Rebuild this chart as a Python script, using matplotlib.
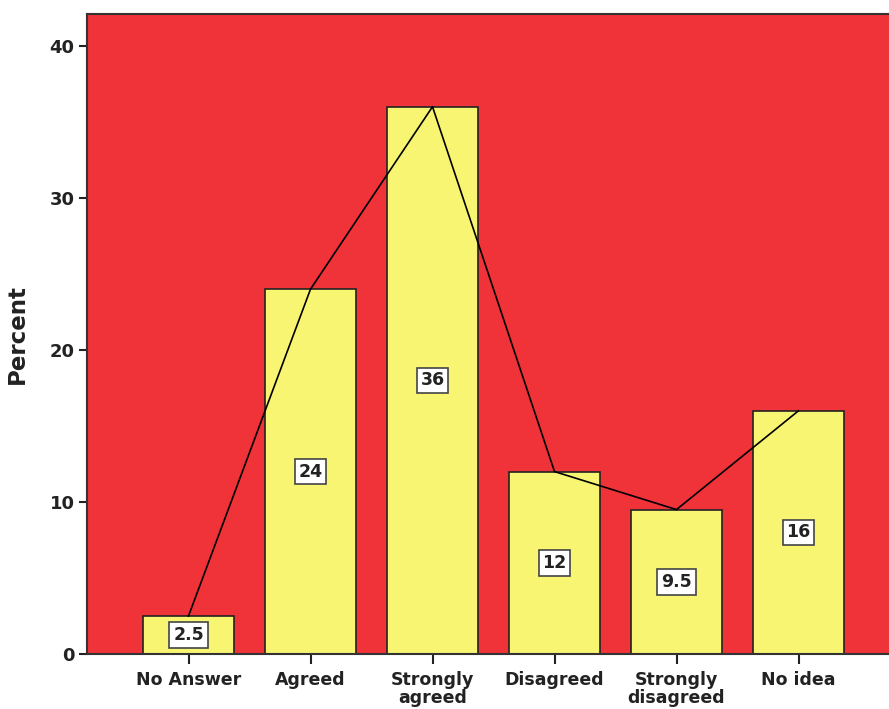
import matplotlib
matplotlib.use("Agg")
import matplotlib.pyplot as plt
import numpy as np

categories = ["No Answer", "Agreed", "Strongly\nagreed", "Disagreed",
              "Strongly\ndisagreed", "No idea"]
percent = [2.5, 24, 36, 12, 9.5, 16]
value_labels = ["2.5", "24", "36", "12", "9.5", "16"]

RED = "#F03239"
YELLOW = "#F8F572"

fig = plt.figure(figsize=(8.89, 7.09), dpi=100)
W, H = 889, 709
left, top, bottom = 87, 14, 654
right = 900  # plot area runs off the right edge
ax = fig.add_axes([left / W, 1 - bottom / H, (right - left) / W, (bottom - top) / H])
ax.set_facecolor(RED)

x = np.arange(len(categories))
ax.bar(x, percent, width=0.745, color=YELLOW, edgecolor="#222222", linewidth=1.2, zorder=2)
ax.plot(x, percent, color="black", linewidth=1.2, zorder=3)

for xi, v, lab in zip(x, percent, value_labels):
    ax.text(xi, v / 2, lab, ha="center", va="center", fontsize=12.5, fontweight="bold",
            color="#222222", zorder=4,
            bbox=dict(boxstyle="square,pad=0.22", facecolor="white",
                      edgecolor="#444444", linewidth=1.2))

ax.set_xlim(-0.832, (right - 188.5) / 122)
ax.set_ylim(0, 42.1)
ax.set_yticks([0, 10, 20, 30, 40])
ax.set_xticks(x)
ax.set_xticklabels(categories, fontsize=12.5, fontweight="bold", color="#222222",
                   linespacing=1.0)
ax.tick_params(axis="y", labelsize=13, colors="#222222", length=6, width=1.5, pad=3)
ax.tick_params(axis="x", length=7, width=1.5, colors="#222222", pad=5)
for lbl in ax.get_yticklabels():
    lbl.set_fontweight("bold")
for s in ["left", "top", "bottom"]:
    ax.spines[s].set_linewidth(1.5)
    ax.spines[s].set_color("#333333")
ax.spines["right"].set_visible(False)

ax.set_ylabel("Percent", fontsize=16.5, fontweight="bold", color="#222222", labelpad=15)

fig.savefig("out.png", dpi=100)
